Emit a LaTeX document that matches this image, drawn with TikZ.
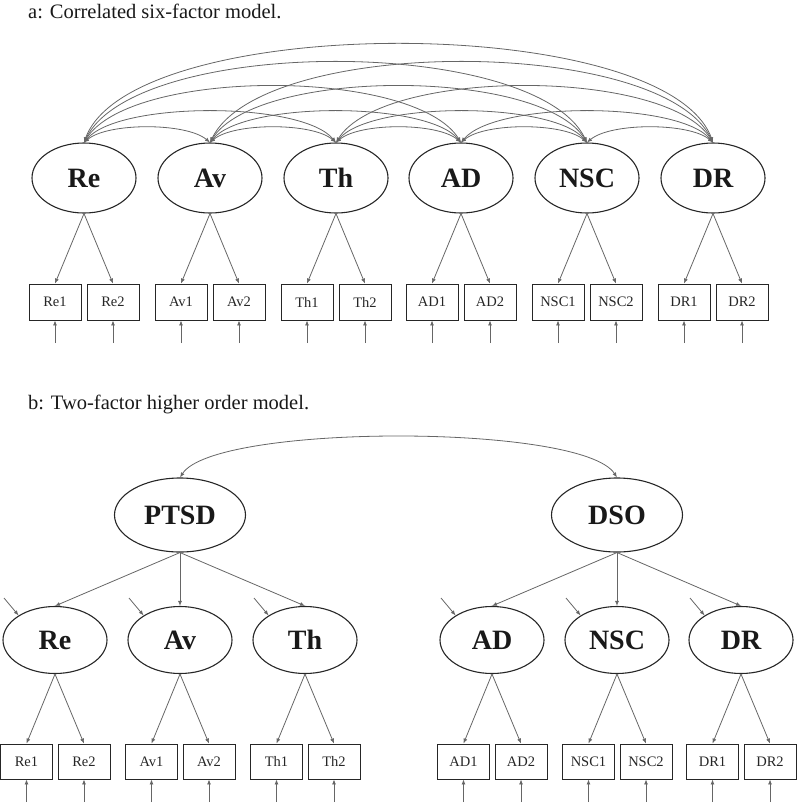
\documentclass[tikz,border=0pt]{standalone}
\usepackage{fontspec}
\setmainfont{Liberation Serif}
\usetikzlibrary{arrows.meta,shapes.geometric}
\begin{document}
\begin{tikzpicture}[x=1pt,y=-1pt,
  lat/.style={ellipse,draw=black!85,line width=1.1pt,inner sep=0pt,minimum width=104pt,minimum height=70pt,font=\fontsize{28}{28}\selectfont\bfseries,text=black!90},
  hlat/.style={lat,minimum width=131pt,minimum height=74pt},
  obs/.style={rectangle,draw=black!85,line width=0.9pt,inner sep=0pt,minimum width=52pt,minimum height=36pt,font=\fontsize{14.5}{14.5}\selectfont,text=black!85},
  con/.style={draw=black!60,line width=0.8pt,-{Latex[length=5pt,width=4pt]}},
  cor/.style={draw=black!60,line width=0.8pt,{Latex[length=5pt,width=4pt]}-{Latex[length=5pt,width=4pt]}},
  ttl/.style={anchor=base west,inner sep=0pt,font=\fontsize{20.5}{20.5}\selectfont,text=black!90}
]
\useasboundingbox (0,0) rectangle (800,803);

% ---------- Part a ----------
\node[ttl] (ta) at (28,18) {a: Correlated six-factor model.};
\foreach \n/\x in {Re/84,Av/210,Th/336,AD/461,NSC/587,DR/713}{
  \node[lat] (a\n) at (\x,178) {\n};
  \node[obs] (a\n1) at (\x-29,302) {\n1};
  \node[obs] (a\n2) at (\x+29,302) {\n2};
  \coordinate (ae\n1) at (\x-29,343);
  \coordinate (ae\n2) at (\x+29,343);
  \draw[con] (a\n.south) -- (a\n1.north);
  \draw[con] (a\n.south) -- (a\n2.north);
  \draw[con] (ae\n1) -- (a\n1.south);
  \draw[con] (ae\n2) -- (a\n2.south);
}
% correlations: distance 1
\draw[cor] (aRe.north) .. controls +(23.8,-20) and +(-23.8,-20) .. (aAv.north);
\draw[cor] (aAv.north) .. controls +(23.8,-20) and +(-23.8,-20) .. (aTh.north);
\draw[cor] (aTh.north) .. controls +(23.8,-20) and +(-23.8,-20) .. (aAD.north);
\draw[cor] (aAD.north) .. controls +(23.8,-20) and +(-23.8,-20) .. (aNSC.north);
\draw[cor] (aNSC.north) .. controls +(23.8,-20) and +(-23.8,-20) .. (aDR.north);
% distance 2
\draw[cor] (aRe.north) .. controls +(34.7,-41.3) and +(-34.7,-41.3) .. (aTh.north);
\draw[cor] (aAv.north) .. controls +(34.7,-41.3) and +(-34.7,-41.3) .. (aAD.north);
\draw[cor] (aTh.north) .. controls +(34.7,-41.3) and +(-34.7,-41.3) .. (aNSC.north);
\draw[cor] (aAD.north) .. controls +(34.7,-41.3) and +(-34.7,-41.3) .. (aDR.north);
% distance 3
\draw[cor] (aRe.north) .. controls +(46.6,-74.7) and +(-46.6,-74.7) .. (aAD.north);
\draw[cor] (aAv.north) .. controls +(46.6,-74.7) and +(-46.6,-74.7) .. (aNSC.north);
\draw[cor] (aTh.north) .. controls +(46.6,-74.7) and +(-46.6,-74.7) .. (aDR.north);
% distance 4
\draw[cor] (aRe.north) .. controls +(52,-106.7) and +(-52,-106.7) .. (aNSC.north);
\draw[cor] (aAv.north) .. controls +(52,-106.7) and +(-52,-106.7) .. (aDR.north);
% distance 5
\draw[cor] (aRe.north) .. controls +(47.6,-130.7) and +(-47.6,-130.7) .. (aDR.north);

% ---------- Part b ----------
\node[ttl] (tb) at (28,409) {b: Two-factor higher order model.};
\node[hlat] (PTSD) at (180,515) {PTSD};
\node[hlat] (DSO) at (617,515) {DSO};
\draw[cor] (PTSD.north) .. controls +(35,-54) and +(-35,-54) .. (DSO.north);
\foreach \n/\x/\p in {Re/55/PTSD,Av/180/PTSD,Th/305/PTSD,AD/492/DSO,NSC/617/DSO,DR/741/DSO}{
  \node[lat,minimum height=67pt] (b\n) at (\x,640) {\n};
  \draw[con] (\p.south) -- (b\n.north);
  \coordinate (bd\n) at (\x-51,598);
  \draw[con] (bd\n) -- (b\n.146);
  \node[obs,minimum height=35pt] (b\n1) at (\x-28.5,761.5) {\n1};
  \node[obs,minimum height=35pt] (b\n2) at (\x+29,761.5) {\n2};
  \coordinate (be\n1) at (\x-28.5,802);
  \coordinate (be\n2) at (\x+29,802);
  \draw[con] (b\n.south) -- (b\n1.north);
  \draw[con] (b\n.south) -- (b\n2.north);
  \draw[con] (be\n1) -- (b\n1.south);
  \draw[con] (be\n2) -- (b\n2.south);
}
\end{tikzpicture}
\end{document}
